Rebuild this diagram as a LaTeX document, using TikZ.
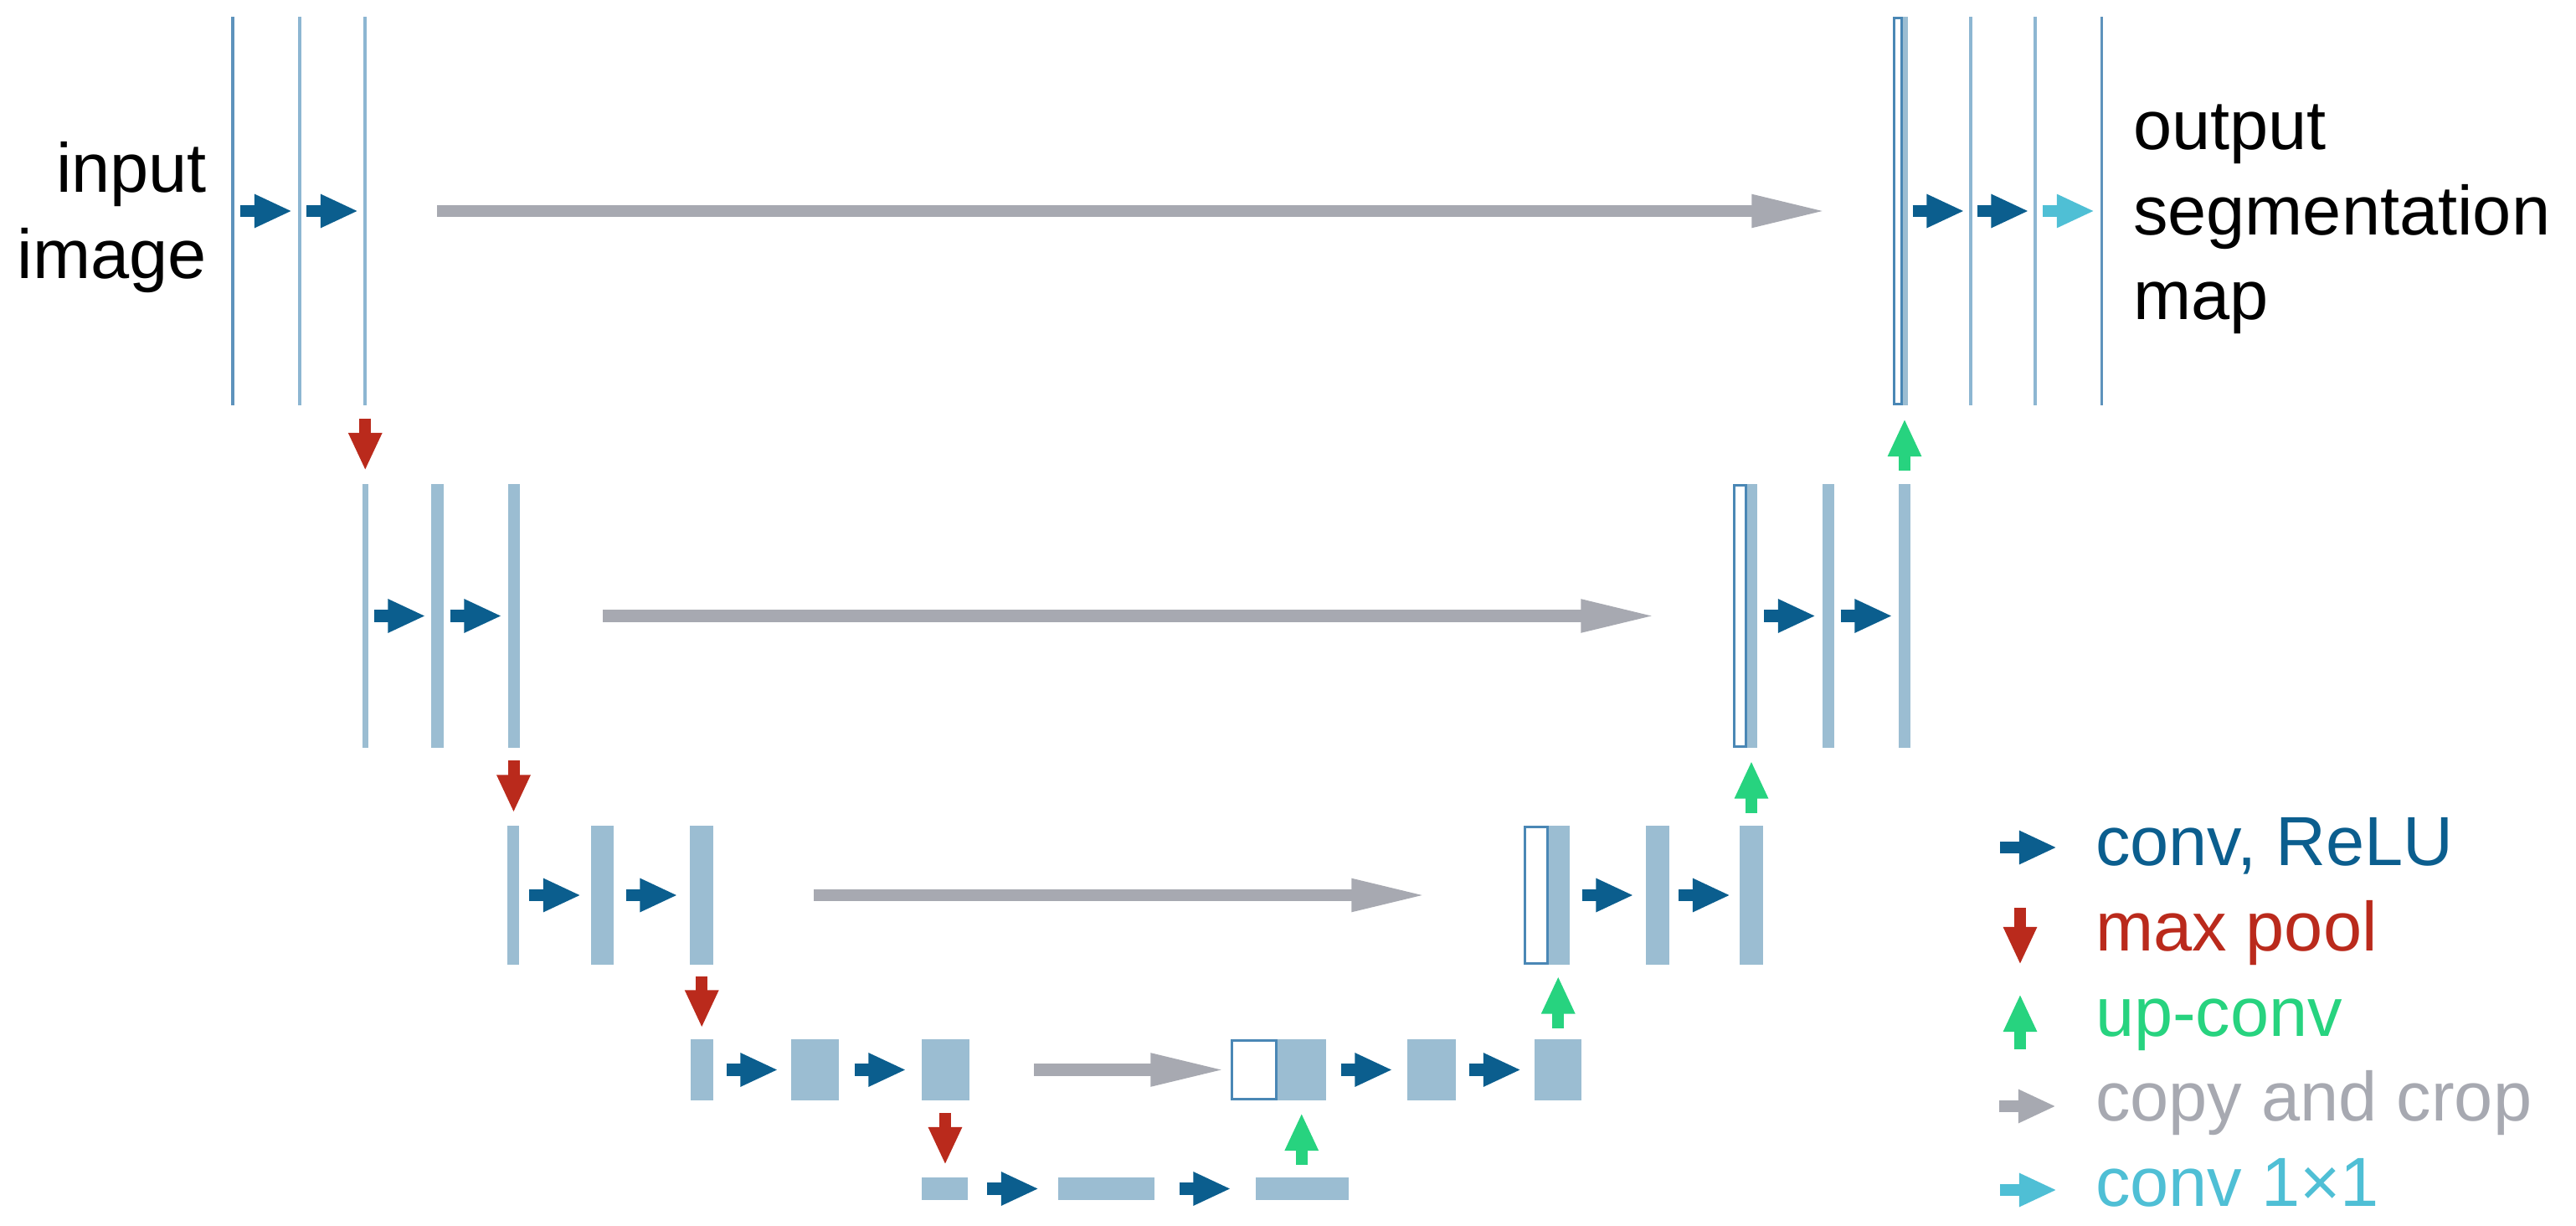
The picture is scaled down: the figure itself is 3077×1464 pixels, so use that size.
\documentclass[tikz,border=0pt]{standalone}
\usepackage{fontspec}
\setmainfont{Liberation Sans}
\usetikzlibrary{arrows.meta,calc,fit}
\definecolor{fmfill}{HTML}{9BBDD2}
\definecolor{fmline}{HTML}{4A87B5}
\definecolor{lnlight}{HTML}{8DB6D2}
\definecolor{lndark}{HTML}{5E93BC}
\definecolor{convc}{HTML}{0B5E8E}
\definecolor{poolc}{HTML}{BA2A1C}
\definecolor{upc}{HTML}{27D37F}
\definecolor{copyc}{HTML}{A7A9B1}
\definecolor{cxc}{HTML}{4FBFD5}
\begin{document}
\begin{tikzpicture}[x=0.01cm,y=-0.01cm,
  fm/.style={inner sep=0pt,outer sep=0pt,fill=fmfill,draw=none},
  thinln/.style={inner sep=0pt,outer sep=0pt,fill=lnlight,draw=none},
  thinlnd/.style={inner sep=0pt,outer sep=0pt,fill=lndark,draw=none},
  cbox/.style={inner sep=0pt,outer sep=0pt,fill=white,draw=fmline,line width=0.03cm},
  convarr/.style={draw=convc,line width=0.14cm,-{Triangle[length=0.45cm,width=0.37cm]}},
  poolarr/.style={convarr,draw=poolc},
  uparr/.style={convarr,draw=upc},
  cxarr/.style={convarr,draw=cxc},
  lgcopy/.style={convarr,draw=copyc},
  copyarr/.style={draw=copyc,line width=0.14cm,-{Triangle[length=0.9cm,width=0.36cm]}},
  lbl/.style={inner sep=0pt,outer sep=0pt,font=\fontsize{23.6pt}{28pt}\selectfont}
]
\useasboundingbox (0,0) rectangle (3077,1464);

% ---------- level 1 ----------
\node[thinlnd,fit={(276,20)(280,484)}] (a11) {};
\node[thinln,fit={(356,20)(360,484)}] (a12) {};
\node[thinln,fit={(434,20)(438,484)}] (a13) {};
\node[fm,fit={(2271,20)(2279,484)}] (r11) {};
\node[cbox,fit={(2262.5,21.5)(2271,482.5)}] (o1) {};
\node[thinln,fit={(2352,20)(2356,484)}] (r12) {};
\node[thinln,fit={(2429,20)(2433,484)}] (r13) {};
\node[thinlnd,fit={(2509,20)(2512,484)}] (r14) {};

% ---------- level 2 ----------
\node[fm,fit={(433,578)(440,893)}] (a21) {};
\node[fm,fit={(515,578)(530,893)}] (a22) {};
\node[fm,fit={(607,578)(621,893)}] (a23) {};
\node[fm,fit={(2085,578)(2099,893)}] (r21) {};
\node[cbox,fit={(2071.5,579.5)(2085,891.5)}] (o2) {};
\node[fm,fit={(2177,578)(2191,893)}] (r22) {};
\node[fm,fit={(2268,578)(2282,893)}] (r23) {};

% ---------- level 3 ----------
\node[fm,fit={(606,986)(620,1152)}] (a31) {};
\node[fm,fit={(706,986)(733,1152)}] (a32) {};
\node[fm,fit={(824,986)(852,1152)}] (a33) {};
\node[fm,fit={(1848,986)(1875,1152)}] (r31) {};
\node[cbox,fit={(1821.5,987.5)(1848,1150.5)}] (o3) {};
\node[fm,fit={(1966,986)(1994,1152)}] (r32) {};
\node[fm,fit={(2078,986)(2106,1152)}] (r33) {};

% ---------- level 4 ----------
\node[fm,fit={(825,1241)(852,1314)}] (a41) {};
\node[fm,fit={(945,1241)(1002,1314)}] (a42) {};
\node[fm,fit={(1101,1241)(1158,1314)}] (a43) {};
\node[fm,fit={(1524,1241)(1584,1314)}] (r41) {};
\node[cbox,fit={(1471.5,1242.5)(1524,1312.5)}] (o4) {};
\node[fm,fit={(1681,1241)(1739,1314)}] (r42) {};
\node[fm,fit={(1833,1241)(1889,1314)}] (r43) {};

% ---------- level 5 ----------
\node[fm,fit={(1101,1406)(1156,1433)}] (a51) {};
\node[fm,fit={(1264,1406)(1379,1433)}] (a52) {};
\node[fm,fit={(1500,1406)(1611,1433)}] (a53) {};

% ---------- conv, ReLU arrows ----------
\foreach \p/\q in {a11/a12,a12/a13,a21/a22,a22/a23,a31/a32,a32/a33,a41/a42,a42/a43,a51/a52,a52/a53,
                   r11/r12,r12/r13,r21/r22,r22/r23,r31/r32,r32/r33,r41/r42,r42/r43}
  \draw[convarr] ($(\p.east)!.5!(\q.west)+(-31,0)$) -- ++(62,0);
% conv 1x1
\draw[cxarr] ($(r13.east)!.5!(r14.west)+(-31,0)$) -- ++(62,0);

% ---------- max pool ----------
\foreach \p/\q in {a13/a21,a23/a31,a33/a41,a43/a51}
  \draw[poolarr] ($(\p.south)!.5!(\q.north)+(0,-31)$) -- ++(0,62);

% ---------- up-conv ----------
\foreach \p/\q in {a53/r41,r43/r31,r33/r21,r23/r11}
  \draw[uparr] ($(\p.north)!.5!(\q.south)+(0,31)$) -- ++(0,-62);

% ---------- copy and crop ----------
\draw[copyarr,shorten <=0.84cm,shorten >=0.80cm] (a13) -- (o1);
\draw[copyarr,shorten <=0.99cm,shorten >=0.93cm] (a23) -- (o2);
\draw[copyarr,shorten <=1.20cm,shorten >=1.17cm] (a33) -- (o3);
\draw[copyarr,shorten <=0.77cm,shorten >=0.07cm] (a43) -- (o4);

% ---------- labels ----------
\node[lbl,anchor=base east] (tin1) at (247,230) {input};
\node[lbl,anchor=base east] (tin2) at (247,333) {image};
\node[lbl,anchor=base west] (tout1) at (2548,179) {output};
\node[lbl,anchor=base west] (tout2) at (2548,281) {segmentation};
\node[lbl,anchor=base west] (tout3) at (2548,382) {map};

% ---------- legend ----------
\coordinate (lg1) at (2423,1012);
\coordinate (lg2) at (2413,1118);
\coordinate (lg3) at (2413,1220);
\coordinate (lg4) at (2422,1321);
\coordinate (lg5) at (2423,1421);
\draw[convarr] ($(lg1)+(-34,0)$) -- ($(lg1)+(34,0)$);
\draw[poolarr] ($(lg2)+(0,-34)$) -- ($(lg2)+(0,34)$);
\draw[uparr] ($(lg3)+(0,33)$) -- ($(lg3)+(0,-33)$);
\draw[lgcopy] ($(lg4)+(-34,0)$) -- ($(lg4)+(34,0)$);
\draw[cxarr] ($(lg5)+(-34,0)$) -- ($(lg5)+(34,0)$);
\node[lbl,anchor=base west,text=convc] (lt1) at (2503,1033) {conv, ReLU};
\node[lbl,anchor=base west,text=poolc] (lt2) at (2503,1135) {max pool};
\node[lbl,anchor=base west,text=upc] (lt3) at (2503,1237) {up-conv};
\node[lbl,anchor=base west,text=copyc] (lt4) at (2503,1338) {copy and crop};
\node[lbl,anchor=base west,text=cxc] (lt5) at (2503,1440) {conv 1×1};
\end{tikzpicture}
\end{document}
